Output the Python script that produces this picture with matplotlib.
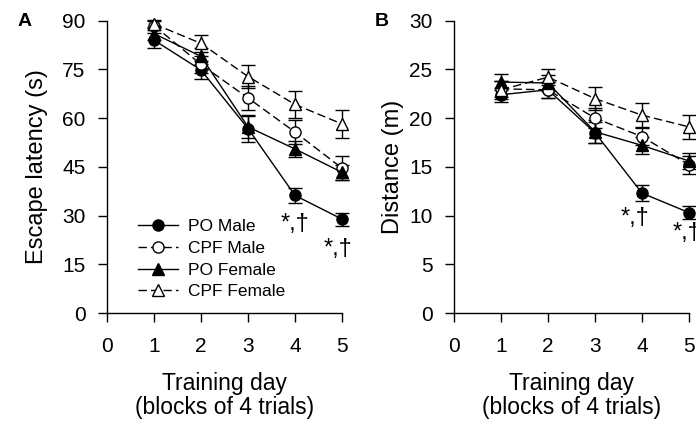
import matplotlib
matplotlib.use("Agg")
import matplotlib.pyplot as plt
from matplotlib.lines import Line2D

plt.rcParams['font.family'] = ['Liberation Sans', 'DejaVu Sans']

days = [1, 2, 3, 4, 5]
series = ["PO Male", "CPF Male", "PO Female", "CPF Female"]

# Panel A: escape latency (s)
lat_po_m = [84.0, 74.8, 56.8, 36.2, 28.9]
lat_po_m_err = [2.3, 2.8, 4.2, 2.3, 2.0]
lat_cpf_m = [88.5, 76.5, 66.2, 55.7, 44.6]
lat_cpf_m_err = [1.5, 2.5, 3.6, 3.6, 3.6]
lat_po_f = [86.0, 79.0, 57.3, 50.5, 43.3]
lat_po_f_err = [2.0, 2.5, 3.5, 2.5, 2.2]
lat_cpf_f = [89.0, 83.0, 72.8, 64.2, 58.2]
lat_cpf_f_err = [1.2, 2.5, 3.6, 4.2, 4.4]

# Panel B: distance (m)
dist_po_m = [22.4, 22.9, 18.5, 12.3, 10.3]
dist_po_m_err = [0.7, 0.8, 1.1, 0.8, 0.7]
dist_cpf_m = [23.0, 22.9, 20.0, 18.1, 15.2]
dist_cpf_m_err = [0.8, 0.8, 1.0, 0.9, 0.9]
dist_po_f = [23.7, 23.6, 18.6, 17.2, 15.6]
dist_po_f_err = [0.8, 0.8, 1.2, 0.9, 0.8]
dist_cpf_f = [22.9, 24.2, 22.0, 20.3, 19.1]
dist_cpf_f_err = [0.9, 0.8, 1.2, 1.2, 1.2]

sig_label = "*,\u2020"
# (day, value) positions of significance labels
sig_A = [(4.0, 27.3), (4.92, 19.6)]
sig_B = [(3.85, 9.7), (4.95, 8.2)]

dash = (0, (6, 3))
styles = [
    dict(ls='-', marker='o', mfc='black'),
    dict(ls=dash, marker='o', mfc='white'),
    dict(ls='-', marker='^', mfc='black'),
    dict(ls=dash, marker='^', mfc='white'),
]

fig = plt.figure(figsize=(6.96, 4.30), dpi=100)
axA = fig.add_axes([0.1537, 0.272, 0.3377, 0.68])
axB = fig.add_axes([0.6523, 0.272, 0.3377, 0.68])

def draw(ax, data, ymax, ystep, ylabel, ylabelpad):
    for name, (y, e), st in zip(series, data, styles):
        h = ax.errorbar(days, y, yerr=e, color='black', lw=1.0,
                        linestyle=st['ls'], marker=st['marker'],
                        mfc=st['mfc'], mec='black', mew=1.0, ms=8,
                        capsize=5, capthick=1.0, elinewidth=1.0,
                        label=name, clip_on=False)
        h[-1][0].set_linestyle('-')
    ax.set_xlim(0, 5)
    ax.set_ylim(0, ymax)
    ax.set_xticks(range(0, 6))
    ax.set_yticks(range(0, ymax + 1, ystep))
    for s in ['top', 'right']:
        ax.spines[s].set_visible(False)
    for s in ['left', 'bottom']:
        ax.spines[s].set_linewidth(1.0)
    ax.tick_params(direction='out', length=6.5, width=1.0, labelsize=15)
    ax.tick_params(axis='y', pad=9)
    ax.tick_params(axis='x', pad=11)
    ax.set_ylabel(ylabel, fontsize=17, labelpad=ylabelpad)
    ax.set_xlabel("Training day\n(blocks of 4 trials)", fontsize=16.5,
                  labelpad=11, linespacing=1.05)

draw(axA, [(lat_po_m, lat_po_m_err), (lat_cpf_m, lat_cpf_m_err),
           (lat_po_f, lat_po_f_err), (lat_cpf_f, lat_cpf_f_err)],
     90, 15, "Escape latency (s)", 10)
draw(axB, [(dist_po_m, dist_po_m_err), (dist_cpf_m, dist_cpf_m_err),
           (dist_po_f, dist_po_f_err), (dist_cpf_f, dist_cpf_f_err)],
     30, 5, "Distance (m)", 4)

for x, y in sig_A:
    axA.text(x, y, sig_label, fontsize=17, ha='center', va='center', clip_on=False)
for x, y in sig_B:
    axB.text(x, y, sig_label, fontsize=17, ha='center', va='center', clip_on=False)

handles = [Line2D([], [], color='black', lw=1.0, linestyle=st['ls'],
                  marker=st['marker'], mfc=st['mfc'], mec='black', ms=8)
           for st in styles]
axA.legend(handles, series, loc='lower left', bbox_to_anchor=(0.08, 0.005),
           frameon=False, fontsize=12.5, handlelength=2.3,
           handletextpad=0.6, labelspacing=0.38, borderpad=0.2)

fig.text(0.036, 0.95, "A", fontsize=14, fontweight='bold', va='center', ha='center')
fig.text(0.549, 0.95, "B", fontsize=14, fontweight='bold', va='center', ha='center')

fig.savefig("out.png", dpi=100)
